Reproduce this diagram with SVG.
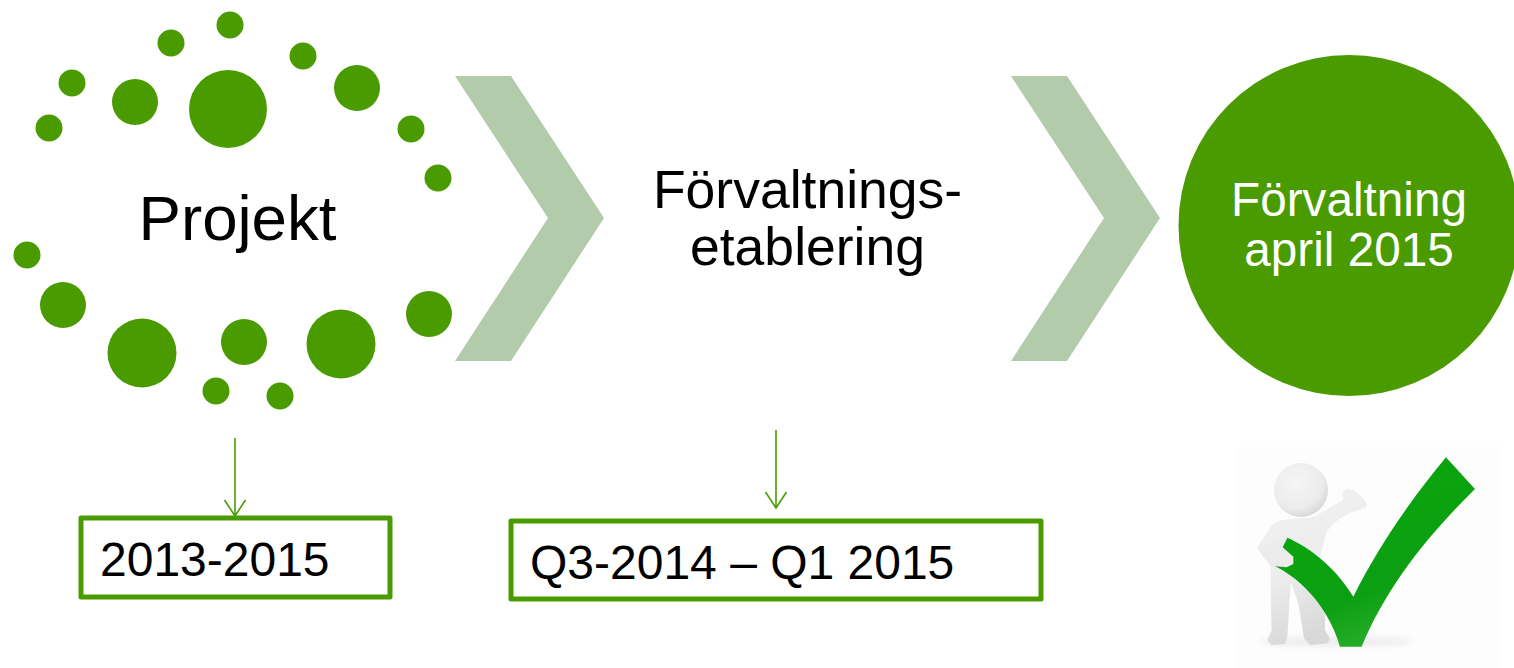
<svg xmlns="http://www.w3.org/2000/svg" width="1514" height="668" viewBox="0 0 1514 668">
<style>
.dot{fill:#4a9b00}
.chev{fill:#b1cbab}
.t{font-family:"Liberation Sans",Arial,sans-serif;fill:#000}
.box{fill:#fff;stroke:#4a9b00;stroke-width:5;stroke-linejoin:round}
.conn{stroke:#4a9b00;stroke-width:1.6;fill:none}
</style>
<defs>
<marker id="arrow" markerUnits="userSpaceOnUse" markerWidth="20" markerHeight="24" refX="17" refY="12" orient="auto" viewBox="0 0 20 24"><path d="M1 1.500 L17 12 L1 22.500" stroke="#4a9b00" stroke-width="1.6" fill="none"/></marker>
<linearGradient id="bodyG" x1="0" y1="0" x2="0.3" y2="1"><stop offset="0" stop-color="#f2f2f2"/><stop offset="0.6" stop-color="#ececec"/><stop offset="1" stop-color="#d8d8d8"/></linearGradient>
<radialGradient id="headG" cx="0.4" cy="0.35" r="0.75"><stop offset="0" stop-color="#f5f5f5"/><stop offset="0.65" stop-color="#ececec"/><stop offset="1" stop-color="#d0d0d0"/></radialGradient>
<linearGradient id="checkG" x1="0.2" y1="0" x2="0.6" y2="1"><stop offset="0" stop-color="#0aa60a"/><stop offset="0.7" stop-color="#0b9f12"/><stop offset="1" stop-color="#2eb02e"/></linearGradient>
<filter id="soft" x="-30%" y="-100%" width="160%" height="300%"><feGaussianBlur stdDeviation="10"/></filter>
</defs>
<g id="projekt">
<circle class="dot" cx="230" cy="25" r="13.500"/><circle class="dot" cx="171" cy="43" r="13.500"/><circle class="dot" cx="303" cy="56" r="13.500"/>
<circle class="dot" cx="72" cy="83" r="13.500"/><circle class="dot" cx="49" cy="128" r="13.500"/><circle class="dot" cx="135" cy="102" r="23"/>
<circle class="dot" cx="228" cy="109" r="39"/><circle class="dot" cx="357" cy="88" r="23"/><circle class="dot" cx="411" cy="129" r="13.500"/>
<circle class="dot" cx="438" cy="178" r="13.500"/><circle class="dot" cx="27" cy="255" r="13.500"/><circle class="dot" cx="63" cy="305" r="23"/>
<circle class="dot" cx="142" cy="353" r="34.500"/><circle class="dot" cx="244" cy="342" r="23"/><circle class="dot" cx="341" cy="344" r="34.500"/>
<circle class="dot" cx="429" cy="314" r="23"/><circle class="dot" cx="216" cy="391" r="13.500"/><circle class="dot" cx="280" cy="396" r="13.500"/>
<text class="t" x="237.500" y="240" font-size="63.600" text-anchor="middle">Projekt</text>
</g>
<g id="chevron1"><polygon class="chev" points="455,76 511,76 604,218 511,361 455,361 548,218"/></g>
<g id="etablering"><text class="t" font-size="53.500" text-anchor="middle"><tspan x="807.500" y="208">Förvaltnings-</tspan><tspan x="807.500" y="265">etablering</tspan></text></g>
<g id="chevron2"><polygon class="chev" points="1011,76 1067,76 1160,218 1067,361 1011,361 1104,218"/></g>
<g id="forvaltning">
<circle class="dot" cx="1349" cy="225.500" r="170.500"/>
<text class="t" style="fill:#fff" font-size="47.700" text-anchor="middle"><tspan x="1349" y="216">Förvaltning</tspan><tspan x="1349" y="266">april 2015</tspan></text>
</g>
<g id="box1"><rect class="box" x="81" y="518" width="309" height="79"/><text class="t" x="100" y="576" font-size="48">2013-2015</text></g>
<g id="box2"><rect class="box" x="511" y="521" width="530" height="78"/><text class="t" x="530" y="579" font-size="48">Q3-2014 – Q1 2015</text></g>
<g id="connectors">
<line class="conn" x1="235" y1="438" x2="235" y2="516" marker-end="url(#arrow)"/>
<line class="conn" x1="776" y1="430" x2="776" y2="508" marker-end="url(#arrow)"/>
</g>
<g id="figure">
<rect x="1238" y="447" width="263" height="221" fill="#fdfdfd"/>
<g transform="translate(1230,440) scale(0.3333)">
<ellipse cx="320" cy="605" rx="230" ry="14" fill="#ececec" filter="url(#soft)"/>
<path d="M130 250 C170 232 215 238 245 232 C285 215 320 190 340 178 L336 160 L350 145 L368 150 C385 160 405 175 412 195 L405 205 C360 215 320 235 290 275 L270 350 L275 420 L285 500 L285 570 L300 595 L292 610 L240 616 L222 595 L205 490 L182 425 L172 590 L165 612 L125 616 L112 600 L125 570 L122 470 L122 378 L95 345 L82 320 Z" fill="url(#bodyG)"/>
<circle cx="213" cy="150" r="81" fill="url(#headG)"/>
<path d="M165 290 C250 325 325 395 370 470 C450 310 550 170 648 52 L735 147 C590 290 470 440 395 620 L330 620 C310 550 255 440 135 378 Z" fill="url(#checkG)"/>
<path d="M82 322 C95 312 125 320 140 305 L178 282 L158 322 L190 350 L190 372 L170 382 L130 378 L100 350 Z" fill="#ececec"/>
</g>
</g>
</svg>
